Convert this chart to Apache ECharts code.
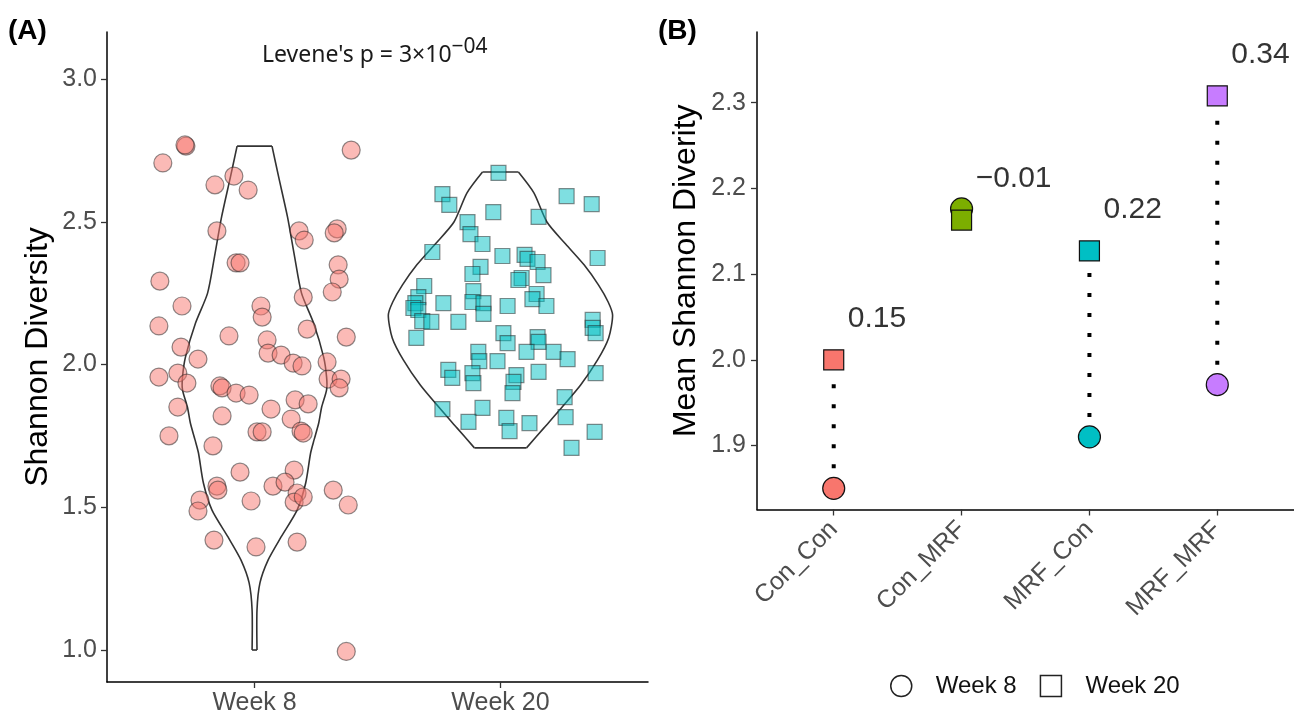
<!DOCTYPE html>
<html><head><meta charset="utf-8">
<script src="https://cdn.jsdelivr.net/npm/echarts@6/dist/echarts.min.js"></script>
<style>html,body{margin:0;padding:0;background:#fff;}#c{width:1294px;height:713px;}</style>
</head><body><div id="c"></div>
<script>
// ---------- Panel A data ----------
const weekCats = ['Week 8', 'Week 20'];
const yTicksA = [1.0, 1.5, 2.0, 2.5, 3.0];
// [horizontal jitter (category units), Shannon diversity]
const week8Samples = [[-0.279,2.765],[-0.283,2.769],[-0.373,2.706],[-0.084,2.660],[-0.161,2.629],[-0.026,2.611],[0.393,2.751],[-0.153,2.468],[0.181,2.468],[0.202,2.436],[0.336,2.475],[0.324,2.461],[-0.075,2.356],[-0.059,2.356],[0.340,2.349],[0.344,2.299],[0.316,2.254],[-0.385,2.292],[0.198,2.236],[-0.295,2.205],[0.026,2.205],[0.031,2.166],[-0.389,2.135],[-0.104,2.100],[0.214,2.124],[0.373,2.096],[-0.299,2.061],[0.051,2.086],[-0.230,2.019],[0.055,2.040],[0.108,2.033],[0.157,2.005],[0.193,1.995],[0.295,2.009],[-0.389,1.956],[-0.312,1.970],[-0.275,1.935],[0.299,1.949],[0.352,1.949],[0.344,1.918],[-0.141,1.925],[-0.132,1.918],[-0.075,1.900],[-0.022,1.893],[-0.312,1.851],[0.067,1.844],[0.165,1.876],[0.218,1.862],[-0.132,1.820],[0.149,1.809],[-0.348,1.750],[0.010,1.764],[0.031,1.764],[0.189,1.767],[0.198,1.760],[-0.169,1.715],[-0.059,1.623],[0.161,1.630],[0.075,1.574],[0.124,1.588],[-0.153,1.574],[-0.149,1.560],[-0.222,1.525],[-0.230,1.487],[-0.014,1.522],[0.173,1.550],[0.161,1.518],[0.198,1.536],[0.320,1.560],[0.381,1.508],[-0.165,1.385],[0.006,1.361],[0.173,1.378],[0.373,0.995]];
const week20Samples = [[-0.008,2.671],[-0.236,2.597],[-0.208,2.559],[0.269,2.590],[0.371,2.562],[-0.029,2.534],[0.155,2.517],[-0.134,2.499],[-0.122,2.457],[-0.073,2.422],[-0.277,2.394],[0.008,2.380],[0.098,2.384],[0.110,2.370],[0.151,2.359],[0.395,2.373],[-0.081,2.342],[-0.114,2.317],[0.175,2.313],[0.086,2.303],[0.073,2.296],[-0.310,2.275],[-0.110,2.257],[0.147,2.247],[-0.334,2.236],[-0.346,2.215],[-0.232,2.215],[-0.114,2.219],[-0.069,2.215],[0.029,2.205],[0.130,2.229],[0.187,2.205],[-0.354,2.198],[-0.334,2.191],[-0.069,2.177],[-0.318,2.152],[-0.281,2.149],[-0.171,2.149],[-0.342,2.093],[0.012,2.110],[0.029,2.075],[0.151,2.096],[0.155,2.079],[0.106,2.044],[0.216,2.044],[0.273,2.019],[0.375,2.156],[0.375,2.128],[0.387,2.110],[-0.090,2.044],[-0.086,2.012],[-0.012,2.012],[-0.212,1.981],[-0.196,1.953],[-0.114,1.970],[-0.110,1.935],[0.065,1.963],[0.053,1.939],[0.049,1.900],[0.155,1.974],[0.387,1.970],[0.261,1.886],[-0.236,1.844],[-0.073,1.848],[-0.130,1.799],[0.024,1.813],[0.037,1.767],[0.118,1.795],[0.265,1.816],[0.383,1.764],[0.289,1.708]];
// violin outlines: value levels and half-widths (category units), top to bottom
const violin8Y = [2.765,2.657,2.517,2.377,2.250,2.145,2.026,1.956,1.911,1.851,1.795,1.736,1.690,1.585,1.490,1.396,1.315,1.235,1.140,1.000];
const violin8W = [0.071,0.098,0.134,0.163,0.191,0.240,0.281,0.293,0.293,0.273,0.261,0.242,0.228,0.208,0.173,0.108,0.055,0.022,0.010,0.010];
const violin20Y = [2.674,2.601,2.499,2.422,2.349,2.278,2.219,2.173,2.093,2.016,1.928,1.851,1.778,1.708];
const violin20W = [0.073,0.136,0.189,0.265,0.340,0.399,0.438,0.456,0.440,0.395,0.326,0.251,0.177,0.106];
const leveneMain = "Levene's p = 3×10";
const leveneSup = "−04";

// ---------- Panel B data ----------
const groupCats = ['Con_Con', 'Con_MRF', 'MRF_Con', 'MRF_MRF'];
const groupColors = ['#F8766D', '#7CAE00', '#00BFC4', '#C77CFF'];
const meanWeek8 = [1.850, 2.176, 1.910, 1.971];
const meanWeek20 = [2.000, 2.163, 2.127, 2.308];
const diffLabels = ['0.15', '−0.01', '0.22', '0.34'];
const yTicksB = [1.9, 2.0, 2.1, 2.2, 2.3];

const FONT = 'Liberation Sans, Arial, sans-serif';
const tickGray = '#4d4d4d';

function axisCommon() {
  return {
    axisLine: {show: true, onZero: false, lineStyle: {color: '#000', width: 1.5}},
    axisTick: {show: true, length: 6, lineStyle: {color: '#333', width: 1.3}},
    splitLine: {show: false},
    axisLabel: {color: tickGray, fontSize: 25, fontFamily: FONT}
  };
}

const violins = [[violin8Y, violin8W], [violin20Y, violin20W]];
function violinItem(params, api) {
  const i = params.dataIndex;
  const ys = violins[i][0], ws = violins[i][1];
  const left = ys.map((y, k) => api.coord([i - ws[k], y]));
  const right = ys.map((y, k) => api.coord([i + ws[k], y]));
  const n = ys.length;
  const st = {stroke: '#333', lineWidth: 1.6, fill: null};
  return {type: 'group', children: [
    {type: 'polyline', shape: {points: left, smooth: 0.25}, style: st},
    {type: 'polyline', shape: {points: right, smooth: 0.25}, style: st},
    {type: 'line', shape: {x1: left[0][0], y1: left[0][1], x2: right[0][0], y2: right[0][1]}, style: st},
    {type: 'line', shape: {x1: left[n-1][0], y1: left[n-1][1], x2: right[n-1][0], y2: right[n-1][1]}, style: st}
  ]};
}

function dotLine(params, api) {
  const p1 = api.coord([api.value(0), api.value(1)]);
  const p2 = api.coord([api.value(0), api.value(2)]);
  return {type: 'line', shape: {x1: p1[0], y1: p1[1], x2: p2[0], y2: p2[1]},
    style: {stroke: '#000', lineWidth: 4, lineDash: [4, 16], lineCap: 'butt'}};
}

const xA = Object.assign(axisCommon(), {
  type: 'value', gridIndex: 0, min: -0.6, max: 1.6
});
xA.axisTick.customValues = [0, 1];
xA.axisLabel.customValues = [0, 1];
xA.axisLabel.formatter = v => weekCats[Math.round(v)];
xA.axisLabel.margin = 9;

const yA = Object.assign(axisCommon(), {
  type: 'value', gridIndex: 0, min: 0.888, max: 3.1646,
  name: 'Shannon Diversity', nameLocation: 'middle', nameGap: 53,
  nameTextStyle: {fontSize: 32, color: '#000', fontFamily: FONT}
});
yA.axisTick.customValues = yTicksA;
yA.axisLabel.customValues = yTicksA;
yA.axisLabel.formatter = v => v.toFixed(1);
yA.axisLabel.margin = 10;

const xB = Object.assign(axisCommon(), {
  type: 'value', gridIndex: 1, min: -0.6, max: 3.6
});
xB.axisTick.customValues = [0, 1, 2, 3];
xB.axisLabel.customValues = [0, 1, 2, 3];
xB.axisLabel.formatter = v => groupCats[Math.round(v)];
xB.axisLabel.rotate = 45;
xB.axisLabel.margin = 16;

const yB = Object.assign(axisCommon(), {
  type: 'value', gridIndex: 1, min: 1.8253, max: 2.3825,
  name: 'Mean Shannon Diverity', nameLocation: 'middle', nameGap: 55,
  nameTextStyle: {fontSize: 32, color: '#000', fontFamily: FONT}
});
yB.axisTick.customValues = yTicksB;
yB.axisLabel.customValues = yTicksB;
yB.axisLabel.formatter = v => v.toFixed(1);
yB.axisLabel.margin = 11;

const option = {
  animation: false,
  backgroundColor: '#fff',
  textStyle: {fontFamily: FONT},
  title: [
    {text: '(A)', left: 8, top: 17, padding: 0, textStyle: {fontSize: 28, fontWeight: 'bold', color: '#000', fontFamily: FONT}},
    {text: '(B)', left: 658, top: 17, padding: 0, textStyle: {fontSize: 28, fontWeight: 'bold', color: '#000', fontFamily: FONT}},
    {text: '{a|' + leveneMain + '}{b|' + leveneSup + '}', left: 262, top: 37, padding: 0,
      textStyle: {fontWeight: 'normal', rich: {
        a: {fontSize: 23, fontWeight: 'normal', fontFamily: 'Noto Sans', color: '#1a1a1a', lineHeight: 30, verticalAlign: 'bottom'},
        b: {fontSize: 21, fontWeight: 'normal', fontFamily: 'Noto Sans', color: '#1a1a1a', lineHeight: 22, verticalAlign: 'top'}
      }}}
  ],
  grid: [
    {left: 107, top: 32, width: 541, height: 650, outerBoundsMode: 'none'},
    {left: 757, top: 32, width: 537, height: 477.5, outerBoundsMode: 'none'}
  ],
  xAxis: [xA, xB],
  yAxis: [yA, yB],
  legend: {
    left: 885, top: 669, orient: 'horizontal', itemWidth: 21, itemHeight: 21, itemGap: 23,
    selectedMode: false,
    textStyle: {fontSize: 24, color: '#111', fontFamily: FONT, padding: [0, 0, 0, 19]},
    data: [
      {name: 'Week 8', icon: 'circle', itemStyle: {color: '#fff', borderColor: '#222', borderWidth: 1.5, opacity: 1}},
      {name: 'Week 20', icon: 'rect', itemStyle: {color: '#fff', borderColor: '#222', borderWidth: 1.5, opacity: 1}}
    ]
  },
  series: [
    {type: 'custom', name: 'violin', xAxisIndex: 0, yAxisIndex: 0, renderItem: violinItem,
      data: [[0, 2], [1, 2]], encode: {x: 0, y: 1}, z: 1, silent: true},
    {type: 'scatter', name: 'Week 8 samples', xAxisIndex: 0, yAxisIndex: 0, symbol: 'circle', symbolSize: 18,
      data: week8Samples.map(d => [0 + d[0], d[1]]),
      itemStyle: {color: '#F8766D', borderColor: '#222', borderWidth: 1.2, opacity: 0.5}, z: 2},
    {type: 'scatter', name: 'Week 20 samples', xAxisIndex: 0, yAxisIndex: 0, symbol: 'rect', symbolSize: 15,
      data: week20Samples.map(d => [1 + d[0], d[1]]),
      itemStyle: {color: '#00BFC4', borderColor: '#222', borderWidth: 1.2, opacity: 0.5}, z: 2},
    {type: 'custom', name: 'change', xAxisIndex: 1, yAxisIndex: 1, renderItem: dotLine,
      data: groupCats.map((c, i) => [i, meanWeek8[i], meanWeek20[i]]), encode: {x: 0, y: [1, 2]}, z: 1, silent: true},
    {type: 'scatter', name: 'Week 8', xAxisIndex: 1, yAxisIndex: 1, symbol: 'circle', symbolSize: 22,
      data: groupCats.map((c, i) => ({value: [i, meanWeek8[i]], itemStyle: {color: groupColors[i]}})),
      itemStyle: {borderColor: '#111', borderWidth: 1.2, opacity: 1}, z: 3},
    {type: 'scatter', name: 'Week 20', xAxisIndex: 1, yAxisIndex: 1, symbol: 'rect', symbolSize: 20,
      data: groupCats.map((c, i) => ({value: [i, meanWeek20[i]], itemStyle: {color: groupColors[i]}})),
      itemStyle: {borderColor: '#111', borderWidth: 1.2, opacity: 1}, z: 4},
    {type: 'scatter', name: 'diff labels', xAxisIndex: 1, yAxisIndex: 1, symbolSize: 0, silent: true,
      data: groupCats.map((c, i) => ({name: diffLabels[i], value: [i + 0.11, meanWeek20[i] + 0.048]})),
      label: {show: true, formatter: '{b}', position: 'right', distance: 0, fontSize: 30, color: '#000', fontFamily: FONT},
      z: 5}
  ]
};
const chart = echarts.init(document.getElementById('c'), null, {renderer: 'canvas'});
chart.setOption(option);
</script></body></html>
